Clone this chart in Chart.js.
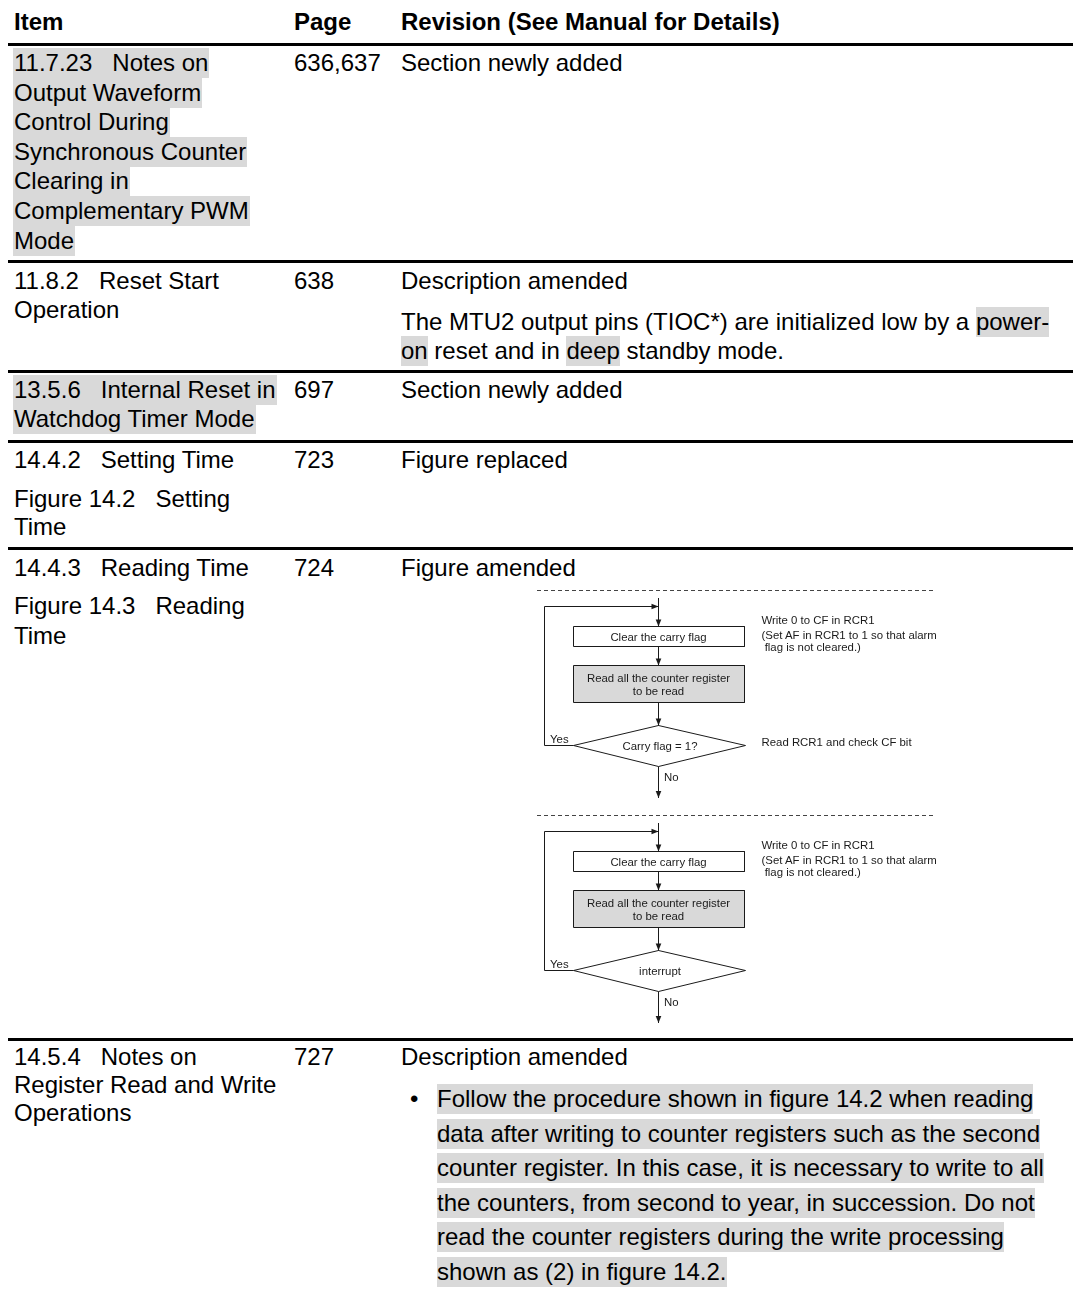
<!DOCTYPE html>
<html><head><meta charset="utf-8">
<script src="https://cdn.jsdelivr.net/npm/chart.js@4.4.0/dist/chart.umd.min.js"></script>
<style>
html,body{margin:0;padding:0;background:#fff;}
body{width:1073px;height:1291px;position:relative;overflow:hidden;font-family:"Liberation Sans",Arial,Helvetica,sans-serif;color:#000;}
.t{position:absolute;white-space:pre;font-size:24px;height:30px;line-height:30px;}
.t span{display:inline-block;height:30px;line-height:30px;white-space:pre;}
.b{font-weight:bold;}
.hl{background:#d9d9d9;}
.rule{position:absolute;left:8px;width:1065px;height:3px;background:#000;}
#fc{position:absolute;left:530px;top:585px;width:410px;height:450px;}
.fl{position:absolute;white-space:pre;font-size:11.4px;line-height:12.5px;color:#1a1a1a;}
</style></head><body>
<div id="fc"><canvas id="c" width="410" height="450"></canvas></div>
<script>
// ---------------- data ----------------
const headers = ["Item", "Page", "Revision (See Manual for Details)"];
const itemLines = [
  ["11.7.23\u00a0\u00a0\u00a0Notes on", "Output Waveform", "Control During", "Synchronous Counter", "Clearing in", "Complementary PWM", "Mode"],
  ["11.8.2\u00a0\u00a0\u00a0Reset Start", "Operation"],
  ["13.5.6\u00a0\u00a0\u00a0Internal Reset in", "Watchdog Timer Mode"],
  ["14.4.2\u00a0\u00a0\u00a0Setting Time", "Figure 14.2\u00a0\u00a0\u00a0Setting", "Time"],
  ["14.4.3\u00a0\u00a0\u00a0Reading Time", "Figure 14.3\u00a0\u00a0\u00a0Reading", "Time"],
  ["14.5.4\u00a0\u00a0\u00a0Notes on", "Register Read and Write", "Operations"]
];
const itemHighlighted = [true, false, true, false, false, false];
const pages = ["636,637", "638", "697", "723", "724", "727"];
const revisionHeads = ["Section newly added", "Description amended", "Section newly added", "Figure replaced", "Figure amended", "Description amended"];
const resetParagraph = [
  [["The MTU2 output pins (TIOC*) are initialized low by a ", 0], ["power-", 1]],
  [["on", 1], [" reset and in ", 0], ["deep", 1], [" standby mode.", 0]]
];
const bulletLines = [
  "Follow the procedure shown in figure 14.2 when reading",
  "data after writing to counter registers such as the second",
  "counter register. In this case, it is necessary to write to all",
  "the counters, from second to year, in succession. Do not",
  "read the counter registers during the write processing",
  "shown as (2) in figure 14.2."
];
// flowchart content
const stepLabels = ["Clear the carry flag", "Read all the counter register\nto be read"];
const decisionLabels = ["Carry flag = 1?", "interrupt"];
const stepNotes = ["Write 0 to CF in RCR1", "(Set AF in RCR1 to 1 so that alarm", " flag is not cleared.)"];
const decisionNotes = ["Read RCR1 and check CF bit", ""];
const branchLabels = ["Yes", "No"];

// ---------------- layout ----------------
const colX = [14, 294, 401];
const headerY = 22;
const ruleY = [44, 261, 371.5, 441.5, 548, 1039];
const itemYs = [
  [63, 92.6, 122.2, 151.8, 181.4, 211, 240.6],
  [280.5, 310],
  [390, 419],
  [459.5, 499, 527],
  [567.5, 606, 636],
  [1056.5, 1085, 1113]
];
const paraY = [321.5, 351];
const bulletX = 410, bulletTextX = 438;
const bulletY = [1099, 1133.6, 1168.2, 1202.8, 1237.4, 1272];

function addLine(x, yc, segs, cls) {
  const d = document.createElement('div');
  d.className = 't' + (cls ? ' ' + cls : '');
  d.style.left = x + 'px';
  d.style.top = (yc - 15) + 'px';
  segs.forEach(s => {
    const sp = document.createElement('span');
    sp.textContent = s[0];
    if (s[1]) { sp.className = 'hl'; }
    d.appendChild(sp);
  });
  document.body.appendChild(d);
  return d;
}
headers.forEach((h, i) => addLine(colX[i], headerY, [[h, 0]], 'b'));
ruleY.forEach(y => {
  const r = document.createElement('div');
  r.className = 'rule';
  r.style.top = (y - 1.5) + 'px';
  document.body.appendChild(r);
});
itemLines.forEach((lines, r) => {
  lines.forEach((txt, j) => {
    const d = addLine(colX[0] - 1, itemYs[r][j], [[txt, itemHighlighted[r]]]);
    d.firstChild.style.paddingLeft = '1px';
    d.firstChild.style.paddingRight = '1px';
  });
  addLine(colX[1], itemYs[r][0], [[pages[r], 0]]);
  addLine(colX[2], itemYs[r][0], [[revisionHeads[r], 0]]);
});
resetParagraph.forEach((segs, j) => addLine(colX[2], paraY[j], segs));
addLine(bulletX, bulletY[0], [["\u2022", 0]]);
bulletLines.forEach((txt, j) => addLine(bulletTextX - 1, bulletY[j], [[txt, 1]]));

// ---------------- flowchart (Chart.js) ----------------
const G = {cx: 128.5, L: 43.5, R: 214.5, dR: 215.5, b1: [41.5, 61.5], b2: [80.5, 117.5],
  dTop: 140.5, dMid: 160.5, dBot: 181.5, loopX: 14.5, loopY: 21.5, start: 13, end: 213,
  dash: [7, 405, 5.5], noteX: 231.5, noteY: [35, 49.5, 62], dNoteY: 157, yesX: 20, yesY: 154, noX: 134, noY: 192, step: 225};
const datasets = [];
function seg(pts, opts) {
  datasets.push(Object.assign({data: pts.map(p => ({x: p[0], y: p[1]})), showLine: true, pointRadius: 0,
    pointHoverRadius: 0, borderWidth: 1, borderColor: '#1a1a1a', tension: 0, fill: false, clip: false}, opts || {}));
}
for (let k = 0; k < decisionLabels.length; k++) {
  const o = k * G.step;
  seg([[G.dash[0], G.dash[2] + o], [G.dash[1], G.dash[2] + o]], {borderDash: [4, 3], borderColor: '#444'});
  seg([[G.cx, G.start + o], [G.cx, G.b1[0] + o]], {arrow: true});
  seg([[G.L, G.dMid + o], [G.loopX, G.dMid + o], [G.loopX, G.loopY + o], [G.cx, G.loopY + o]], {arrow: true});
  seg([[G.L, G.b1[0] + o], [G.R, G.b1[0] + o], [G.R, G.b1[1] + o], [G.L, G.b1[1] + o], [G.L, G.b1[0] + o]],
      {fill: 'shape', backgroundColor: '#ffffff'});
  seg([[G.cx, G.b1[1] + o], [G.cx, G.b2[0] + o]], {arrow: true});
  seg([[G.L, G.b2[0] + o], [G.R, G.b2[0] + o], [G.R, G.b2[1] + o], [G.L, G.b2[1] + o], [G.L, G.b2[0] + o]],
      {fill: 'shape', backgroundColor: '#d9d9d9'});
  seg([[G.cx, G.b2[1] + o], [G.cx, G.dTop + o]], {arrow: true});
  seg([[G.cx, G.dTop + o], [G.dR, G.dMid + o], [G.cx, G.dBot + o], [G.L, G.dMid + o], [G.cx, G.dTop + o]],
      {fill: 'shape', backgroundColor: '#ffffff'});
  seg([[G.cx, G.dBot + o], [G.cx, G.end + o]], {arrow: true});
}

const arrowPlugin = {
  id: 'arrows',
  afterDatasetsDraw(chart) {
    const ctx = chart.ctx;
    chart.data.datasets.forEach((d, i) => {
      if (!d.arrow) return;
      const pts = chart.getDatasetMeta(i).data;
      const a = pts[pts.length - 2], b = pts[pts.length - 1];
      const ang = Math.atan2(b.y - a.y, b.x - a.x), Ln = 7, W = 2.8;
      ctx.save();
      ctx.fillStyle = d.borderColor;
      ctx.beginPath();
      ctx.moveTo(b.x, b.y);
      ctx.lineTo(b.x - Ln * Math.cos(ang) + W * Math.sin(ang), b.y - Ln * Math.sin(ang) - W * Math.cos(ang));
      ctx.lineTo(b.x - Ln * Math.cos(ang) - W * Math.sin(ang), b.y - Ln * Math.sin(ang) + W * Math.cos(ang));
      ctx.closePath();
      ctx.fill();
      ctx.restore();
    });
  }
};
const labelPlugin = {
  id: 'labels',
  afterRender(chart) {
    if (chart.$labelsDone) return;
    chart.$labelsDone = true;
    const sx = chart.scales.x, sy = chart.scales.y, host = document.getElementById('fc');
    function put(txt, x, y, align) {
      const d = document.createElement('div');
      d.className = 'fl';
      d.textContent = txt;
      d.style.left = sx.getPixelForValue(x) + 'px';
      d.style.top = sy.getPixelForValue(y) + 'px';
      d.style.textAlign = align === 'center' ? 'center' : 'left';
      d.style.transform = align === 'center' ? 'translate(-50%,-50%)' : 'translate(0,-50%)';
      host.appendChild(d);
    }
    for (let k = 0; k < decisionLabels.length; k++) {
      const o = k * G.step;
      put(stepLabels[0], G.cx, (G.b1[0] + G.b1[1]) / 2 + o, 'center');
      put(stepLabels[1], G.cx, (G.b2[0] + G.b2[1]) / 2 + o, 'center');
      put(decisionLabels[k], G.cx + 1.5, G.dMid + o, 'center');
      stepNotes.forEach((n, j) => put(n, G.noteX, G.noteY[j] + o, 'left'));
      if (decisionNotes[k]) put(decisionNotes[k], G.noteX, G.dNoteY + o, 'left');
      put(branchLabels[0], G.yesX, G.yesY + o, 'left');
      put(branchLabels[1], G.noX, G.noY + o, 'left');
    }
  }
};

new Chart(document.getElementById('c'), {
  type: 'scatter',
  data: {datasets: datasets},
  options: {
    responsive: false, animation: false, devicePixelRatio: 1,
    layout: {padding: 0},
    scales: {
      x: {type: 'linear', min: 0, max: 410, display: false},
      y: {type: 'linear', min: 0, max: 450, reverse: true, display: false}
    },
    plugins: {legend: {display: false}, tooltip: {enabled: false}},
    events: []
  },
  plugins: [arrowPlugin, labelPlugin]
});
</script>
</body></html>
